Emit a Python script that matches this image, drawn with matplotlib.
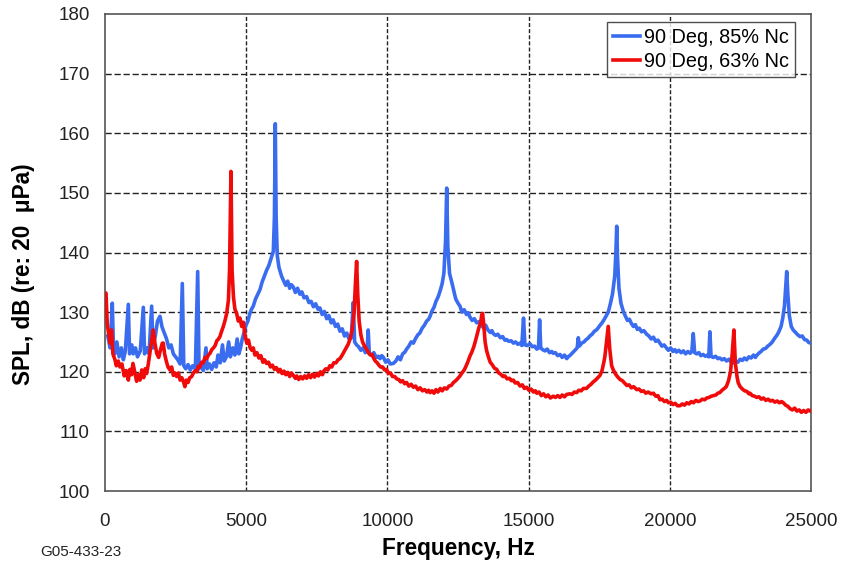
import matplotlib
matplotlib.use("Agg")
import matplotlib.pyplot as plt

plt.rcParams['font.family'] = ['Liberation Sans', 'DejaVu Sans']

# ---- data: 90 Deg, 85% Nc (blue) ----
freq_85 = [100, 180, 258, 300, 350, 420, 500, 580, 650, 720, 826, 870, 950, 1000, 1080, 1150, 1250, 1357,
           1400, 1480, 1560, 1652, 1700, 1780, 1860, 1947, 2020, 2100, 2180, 2260, 2340, 2420, 2500, 2580,
           2660, 2738, 2790, 2860, 2940, 3020, 3100, 3200, 3282, 3330, 3400, 3480, 3576, 3620, 3700, 3780,
           3860, 3940, 4000, 4080, 4160, 4220, 4300, 4380, 4440, 4520, 4600, 4680, 4740, 4800, 4860, 4920,
           4990, 5060, 5130, 5200, 5250, 5330, 5410, 5490, 5560, 5640, 5720, 5800, 5880, 5960, 6000, 6030,
           6060, 6100, 6160, 6255, 6330, 6400, 6470, 6540, 6600, 6670, 6740, 6820, 6900, 6970, 7050, 7140,
           7220, 7300, 7380, 7460, 7540, 7610, 7690, 7770, 7850, 7930, 8010, 8080, 8160, 8240, 8320, 8400,
           8480, 8560, 8640, 8720, 8790, 8840, 8910, 8980, 9060, 9140, 9220, 9280, 9320, 9360, 9440, 9520,
           9600, 9670, 9740, 9800, 9860, 9940, 10020, 10100, 10210, 10300, 10380, 10460, 10540, 10620, 10680,
           10760, 10840, 10920, 11000, 11080, 11150, 11230, 11310, 11390, 11460, 11510, 11580, 11650, 11720,
           11800, 11870, 11940, 12000, 12060, 12100, 12140, 12200, 12280, 12350, 12420, 12500, 12570, 12640,
           12720, 12800, 12860, 12920, 13000, 13080, 13160, 13240, 13320, 13400, 13480, 13560, 13640, 13700,
           13750, 13830, 13910, 14000, 14080, 14160, 14220, 14300, 14380, 14460, 14540, 14620, 14700, 14760,
           14820, 14870, 14950, 15050, 15130, 15210, 15290, 15350, 15390, 15430, 15500, 15580, 15660, 15740,
           15820, 15870, 15950, 16030, 16110, 16190, 16270, 16350, 16400, 16480, 16560, 16640, 16720, 16760,
           16800, 16880, 16960, 17040, 17100, 17170, 17250, 17330, 17400, 17470, 17530, 17600, 17680, 17750,
           17820, 17900, 17970, 18050, 18090, 18120, 18150, 18200, 18270, 18350, 18420, 18500, 18570, 18640,
           18710, 18780, 18850, 18920, 19000, 19080, 19180, 19260, 19340, 19420, 19500, 19580, 19650, 19720,
           19800, 19880, 19950, 20030, 20110, 20180, 20240, 20320, 20400, 20480, 20560, 20640, 20720, 20780,
           20830, 20880, 20950, 21030, 21100, 21180, 21260, 21340, 21380, 21420, 21460, 21540, 21620, 21700,
           21770, 21850, 21930, 22010, 22100, 22170, 22250, 22330, 22410, 22490, 22570, 22640, 22720, 22800,
           22880, 22960, 23030, 23070, 23150, 23230, 23310, 23390, 23470, 23550, 23630, 23710, 23790, 23860,
           23940, 24000, 24060, 24100, 24140, 24180, 24230, 24300, 24370, 24450, 24530, 24610, 24690, 24770,
           24850, 24920, 25000]
spl_85 = [126, 124, 131.5, 124, 123, 125, 122.5, 124, 122, 123.5, 131.3, 123, 124.5, 123, 124, 122.5, 123.5, 130.8,
          123, 124, 123, 131, 124, 126, 128.5, 129.3, 127.5, 126.5, 125.5, 124, 124.5, 123, 122.5, 122,
          121.3, 134.8, 121, 120.5, 121.2, 120.3, 121, 120.5, 136.8, 120.5, 121.2, 120.2, 124, 120.5, 121.3, 120.4,
          121.5, 120.8, 122.8, 121.5, 124.5, 121.8, 122.5, 125, 122.5, 124, 122.8, 125.5, 123, 124, 125.5, 126.5,
          127.8, 128.5, 129.8, 130.6, 131, 132.2, 133, 133.8, 135, 136, 137, 137.8, 139, 140.2, 146, 161.6,
          146, 139.5, 137.5, 136, 135.2, 134.5, 135.2, 134, 134.6, 134.2, 133.3, 134, 133, 133.4, 132.4, 132.6,
          131.6, 131.8, 130.9, 131.4, 130.5, 130.7, 129.6, 130.1, 128.9, 129.4, 128.2, 128.7, 127.6, 128, 126.8, 127.2,
          126, 126.5, 125.5, 125.7, 131.6, 125, 124.5, 124.2, 123.6, 124, 123.2, 123.6, 127, 123, 122.8, 123.2,
          122.4, 122.6, 122.2, 122.7, 122.4, 121.6, 122, 121.3, 121.4, 121.8, 122.5, 122, 123, 123.3, 123.8,
          124.3, 125, 124.8, 125.6, 126.2, 126.5, 127.3, 127.8, 128.5, 128.8, 129.3, 130.2, 130.8, 131.8,
          132.6, 133.6, 134.8, 136.5, 142, 150.8, 141, 136.5, 135, 133.6, 132.2, 131.5, 131, 130,
          130.4, 129.6, 129.9, 129.2, 128.6, 128.9, 128.2, 128.4, 127.8, 127.4, 127.8, 127, 126.6, 126.9,
          126.4, 126.1, 126.3, 125.7, 125.9, 125.3, 125.4, 125.1, 125.2, 124.8, 125, 124.6, 124.8, 124.4,
          129, 124.5, 124.4, 124.7, 124.2, 124.3, 123.8, 124, 128.7, 124, 123.7, 123.5, 123.8, 123.2,
          123.4, 123.1, 123.2, 122.7, 122.9, 122.4, 122.8, 122.2, 122.5, 122.8, 123.2, 123.6, 124, 125.7,
          124.3, 124.8, 125, 125.4, 125.6, 126, 126.3, 126.8, 127, 127.4, 127.8, 128.2, 128.8, 129.4,
          130, 131.5, 133, 136, 140, 144.4, 139, 134, 131.5, 130.2, 129.4, 128.6, 128.8, 128.1,
          127.6, 127.9, 127.1, 127.3, 126.7, 126.9, 126.3, 126, 125.5, 125.8, 125.1, 125.3, 124.8, 124.3,
          124.5, 124, 123.6, 124, 123.4, 123.7, 123.3, 123.6, 123.2, 123.5, 123, 123.4, 123.1, 123.4,
          126.4, 123.2, 123, 123.2, 122.7, 122.9, 122.6, 122.8, 122.5, 126.7, 122.6, 122.4, 122.6, 122.2,
          122.3, 122, 122.2, 121.8, 122.1, 121.6, 121.5, 121.8, 121.6, 122.1, 121.9, 122.3, 122, 122.5,
          122.3, 122.8, 122.4, 122.7, 123.1, 123.4, 123.8, 123.9, 124.3, 124.6, 125, 125.6, 126.1, 126.7,
          127.6, 129, 131, 134, 136.8, 133, 129.5, 127.6, 127, 126.6, 126.2, 125.9, 126, 125.4,
          125.3, 124.9, 124.8]

# ---- data: 90 Deg, 63% Nc (red) ----
freq_63 = [0, 35, 80, 140, 177, 230, 280, 354, 400, 470, 530, 600, 680, 750, 826, 880, 940, 990, 1050, 1120,
           1180, 1240, 1300, 1370, 1420, 1475, 1540, 1600, 1660, 1710, 1760, 1830, 1900, 1960, 2030, 2065,
           2110, 2170, 2230, 2300, 2360, 2420, 2480, 2540, 2600, 2660, 2720, 2780, 2830, 2880, 2940, 3000,
           3070, 3130, 3200, 3260, 3300, 3360, 3420, 3480, 3540, 3600, 3660, 3720, 3780, 3840, 3900, 3960,
           4020, 4070, 4130, 4190, 4250, 4310, 4370, 4410, 4460, 4500, 4550, 4600, 4660, 4720, 4780, 4840,
           4900, 4960, 5020, 5080, 5140, 5200, 5250, 5310, 5380, 5450, 5520, 5590, 5650, 5720, 5790, 5860,
           5930, 6000, 6070, 6140, 6200, 6270, 6340, 6400, 6470, 6540, 6600, 6670, 6740, 6790, 6860, 6930,
           7000, 7070, 7140, 7210, 7280, 7350, 7420, 7490, 7560, 7630, 7700, 7760, 7820, 7890, 7960, 8030,
           8100, 8180, 8250, 8320, 8400, 8470, 8540, 8610, 8680, 8750, 8820, 8870, 8910, 8950, 9000, 9060,
           9120, 9190, 9260, 9330, 9400, 9460, 9500, 9570, 9640, 9700, 9760, 9830, 9900, 9970, 10040, 10110,
           10180, 10260, 10330, 10400, 10470, 10540, 10610, 10680, 10760, 10840, 10920, 11000, 11080, 11160,
           11240, 11320, 11400, 11460, 11510, 11580, 11650, 11720, 11790, 11870, 11940, 12020, 12100, 12180,
           12260, 12340, 12420, 12500, 12570, 12640, 12720, 12790, 12860, 12920, 12990, 13060, 13120, 13180,
           13240, 13300, 13340, 13370, 13410, 13460, 13510, 13570, 13640, 13710, 13790, 13870, 13940, 14010,
           14090, 14160, 14240, 14320, 14390, 14460, 14530, 14610, 14700, 14780, 14850, 14930, 15010, 15090,
           15170, 15240, 15290, 15370, 15450, 15530, 15610, 15690, 15770, 15870, 15950, 16030, 16110, 16190,
           16270, 16350, 16460, 16540, 16620, 16700, 16780, 16860, 16940, 17050, 17130, 17210, 17290, 17370,
           17450, 17530, 17600, 17660, 17700, 17760, 17820, 17870, 17940, 18010, 18080, 18160, 18240, 18320,
           18400, 18480, 18560, 18640, 18720, 18830, 18910, 18990, 19070, 19150, 19230, 19340, 19420, 19500,
           19580, 19650, 19730, 19810, 19890, 19950, 20030, 20110, 20190, 20270, 20360, 20440, 20520, 20600,
           20680, 20760, 20840, 20920, 21000, 21070, 21150, 21230, 21310, 21390, 21470, 21550, 21630, 21700,
           21770, 21850, 21930, 22000, 22080, 22150, 22210, 22270, 22320, 22380, 22420, 22490, 22570, 22650,
           22730, 22800, 22840, 22920, 23000, 23080, 23160, 23240, 23320, 23400, 23480, 23560, 23640, 23720,
           23800, 23880, 23960, 24020, 24100, 24180, 24260, 24340, 24420, 24500, 24580, 24660, 24740, 24820,
           24900, 24970, 25000]
spl_63 = [133, 133.2, 128, 126, 124.8, 127, 123, 122, 121, 121.8, 120.8, 121.3, 119.3, 120.2, 118.6, 120.4, 119.5, 121.4, 120, 118.4,
          119.5, 118.6, 120.3, 119, 120.5, 119.7, 121.5, 123.5, 125.5, 127, 125, 123.1, 122.4, 123.6, 124.8, 124.8,
          123, 121.8, 120.8, 120.3, 120.8, 119.4, 119.8, 119.2, 119.8, 118.6, 119, 118.3, 117.5, 118.6, 118.2, 119,
          119.2, 119.8, 120.2, 120, 120.9, 120.8, 121.6, 121.5, 122.4, 122.2, 122.8, 123.1, 123.7, 124, 124.4, 125.2,
          125.5, 125.9, 126.8, 127.6, 128.6, 129.8, 132, 137, 153.6, 137, 132.5, 130.5, 129.8, 128.5, 129, 127.6,
          128.3, 126, 124.8, 125.3, 124, 123.6, 124, 122.8, 123.2, 122.3, 122.7, 121.6, 122, 121.4, 121.6, 120.8,
          121.1, 120.4, 120.7, 120, 120.4, 119.7, 120.1, 119.5, 119.9, 119.2, 119.8, 119.4, 118.9, 119.3, 118.7, 119.2,
          118.8, 119.3, 118.9, 119.5, 119, 119.6, 119.1, 119.7, 119.3, 120, 119.5, 120.2, 120.5, 120.3, 121, 120.8,
          121.5, 121.5, 122, 122.2, 122.8, 123.4, 124, 124.6, 125.5, 127, 130, 135, 138.5, 133, 128.5, 126.2,
          125, 124.3, 123.8, 123.2, 122.8, 122.9, 122.4, 121.8, 121.5, 121.1, 120.8, 120.8, 120.3, 120.4, 119.7, 119.8,
          119.2, 119.2, 118.8, 118.7, 118.3, 118.5, 118, 118.2, 117.6, 117.9, 117.4, 117.6, 117, 117.3,
          116.8, 117, 116.6, 116.9, 116.5, 116.8, 116.4, 117, 116.6, 117.2, 116.8, 117.3, 117.1, 117.6,
          117.7, 118.2, 118.5, 118.9, 119.3, 119.8, 120.3, 121, 121.8, 122.6, 123.3, 124.2, 125.2, 126.3,
          127.4, 128.2, 129.5, 129.8, 128, 125, 123.6, 122.6, 121.6, 121.2, 120.6, 120.4, 119.8, 119.6,
          119.2, 119.3, 118.8, 118.9, 118.5, 118.6, 118.1, 118.2, 117.6, 117.8, 117.2, 117.4, 116.9, 117.1,
          116.6, 116.8, 116.4, 116.6, 116, 116.3, 115.8, 116.1, 115.6, 115.9, 115.7, 116, 115.7, 116.1,
          115.8, 116.2, 116.3, 116.2, 116.6, 116.5, 116.9, 116.8, 117.2, 117.2, 117.6, 117.9, 118.3, 118.6,
          119, 119.4, 120.2, 121.5, 122.5, 125, 127.6, 124, 121, 120.2, 119.6, 119.1, 118.7, 118.5,
          118.1, 117.7, 117.8, 117.3, 117.5, 117, 117.1, 116.7, 116.8, 116.4, 116.6, 116.3, 116.4, 115.9,
          116, 115.3, 115.4, 115, 115.2, 114.8, 114.9, 114.5, 114.7, 114.3, 114.3, 114.6, 114.4, 114.8,
          114.6, 115, 114.8, 115.2, 115, 115.1, 115.4, 115.3, 115.6, 115.7, 115.9, 116, 116.1, 116.4,
          116.5, 116.9, 117.2, 117.5, 118.5, 120, 123, 127, 121.5, 119.2, 118.2, 117.5, 117.1, 116.8,
          116.7, 116.3, 116.4, 116, 115.9, 115.7, 115.8, 115.4, 115.6, 115.2, 115.4, 115.1, 115.2, 114.9,
          115.1, 114.8, 115, 114.8, 114.4, 114.2, 113.8, 113.6, 113.9, 113.4, 113.6, 113.2, 113.5, 113.2,
          113.6, 113.4, 113.5]

series_labels = ["90 Deg, 85% Nc", "90 Deg, 63% Nc"]
x_ticks = [0, 5000, 10000, 15000, 20000, 25000]
y_ticks = [100, 110, 120, 130, 140, 150, 160, 170, 180]

fig = plt.figure(figsize=(8.43, 5.65), dpi=100)
ax = fig.add_axes([105/843, 74/565, 706/843, 477/565])

ax.plot(freq_85, spl_85, color='#3a6cf0', lw=2.6, label=series_labels[0], zorder=3)
ax.plot(freq_63, spl_63, color='#f00a0a', lw=2.6, label=series_labels[1], zorder=4)

ax.set_xlim(0, 25000)
ax.set_ylim(100, 180)
ax.set_xticks(x_ticks)
ax.set_yticks(y_ticks)
ax.tick_params(axis='both', length=0, labelsize=13.5, colors='#222222')
ax.tick_params(axis='x', pad=16)
ax.tick_params(axis='y', pad=11)

for y in y_ticks[1:-1]:
    ax.axhline(y, color='#222222', lw=1.0, linestyle=(0, (4.5, 2.0)), zorder=1)
for x in x_ticks[1:-1]:
    ax.axvline(x, color='#222222', lw=1.0, linestyle=(0, (2.9, 1.5)), zorder=1)

for s in ax.spines.values():
    s.set_color('#555555')
    s.set_linewidth(1.2)

ax.set_xlabel("Frequency, Hz", fontsize=16.3, fontweight='bold', labelpad=5)
ax.set_ylabel("SPL, dB (re: 20  \u03bcPa)", fontsize=16.3, fontweight='bold')
ax.yaxis.set_label_coords((35 - 105) / 706, (491 - 274) / 477)

leg = ax.legend(loc='upper right', bbox_to_anchor=((795 - 105) / 706, (491 - 22) / 477),
                fontsize=14.3, frameon=True, fancybox=False,
                borderaxespad=0.0, handlelength=1.35, handletextpad=0.2,
                borderpad=0.3, labelspacing=0.25)
leg.get_frame().set_edgecolor('#222222')
leg.get_frame().set_linewidth(1.0)

fig.text(40/843, 1 - 556/565, "G05-433-23", fontsize=11, color='#222222', va='baseline')

fig.savefig("out.png", dpi=100)
